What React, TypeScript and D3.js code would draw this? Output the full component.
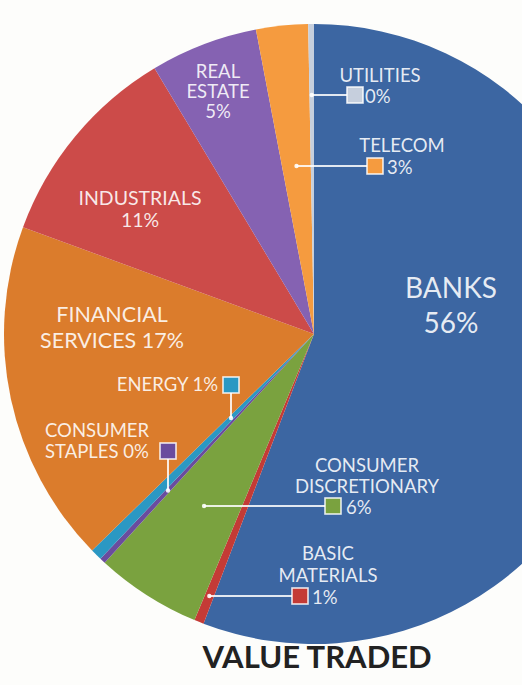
import React from "react";
import * as d3 from "d3";

// sector shares of value traded (clockwise from 12 o'clock)
const sectors = [
  "BANKS",
  "BASIC MATERIALS",
  "CONSUMER DISCRETIONARY",
  "CONSUMER STAPLES",
  "ENERGY",
  "FINANCIAL SERVICES",
  "INDUSTRIALS",
  "REAL ESTATE",
  "TELECOM",
  "UTILITIES",
];
const shares = [55.8, 0.5, 5.5, 0.3, 0.6, 17.9, 10.8, 5.6, 2.7, 0.3];
const shareLabels = ["56%", "1%", "6%", "0%", "1%", "17%", "11%", "5%", "3%", "0%"];
const sectorColors = [
  "#3c66a2",
  "#c43b36",
  "#7aa23f",
  "#6a4c9e",
  "#2b98c3",
  "#db7c2c",
  "#cc4b49",
  "#8562b2",
  "#f59b3f",
  "#c6cfdd",
];
const chartTitle = "VALUE TRADED";

const W = 522;
const H = 685;
const cx = 314;
const cy = 334;
const R = 310;
const FONT = "Lato, 'Open Sans', sans-serif";
const CALL_SIZE = 18.5;

// labels drawn inside their own slice
const inlineLabels: Record<string, { x: number; y: number[]; size: number; lines: (p: string) => string[] }> = {
  BANKS: { x: 451, y: [298, 333], size: 28, lines: (p) => ["BANKS", p] },
  "FINANCIAL SERVICES": { x: 112, y: [322, 348], size: 21.5, lines: (p) => ["FINANCIAL", "SERVICES " + p] },
  INDUSTRIALS: { x: 140, y: [205, 227], size: 19.5, lines: (p) => ["INDUSTRIALS", p] },
  "REAL ESTATE": { x: 218, y: [78, 98, 118], size: 18.5, lines: (p) => ["REAL", "ESTATE", p] },
};

// call-out labels: square key + leader into the thin slice
type Callout = {
  sq: [number, number];
  leader: "h" | "v";
  text: { x: number; y: number[]; anchor: string; lines: (p: string) => string[] };
  pct?: [number, number];
};
const callouts: Record<string, Callout> = {
  UTILITIES: { sq: [347, 87], leader: "h", text: { x: 380, y: [82], anchor: "middle", lines: () => ["UTILITIES"] }, pct: [365, 103] },
  TELECOM: { sq: [367, 158], leader: "h", text: { x: 402, y: [152], anchor: "middle", lines: () => ["TELECOM"] }, pct: [387, 174] },
  "CONSUMER DISCRETIONARY": {
    sq: [325, 498],
    leader: "h",
    text: { x: 367, y: [472, 493], anchor: "middle", lines: () => ["CONSUMER", "DISCRETIONARY"] },
    pct: [346, 514],
  },
  "BASIC MATERIALS": {
    sq: [292, 588],
    leader: "h",
    text: { x: 328, y: [560, 582], anchor: "middle", lines: () => ["BASIC", "MATERIALS"] },
    pct: [312, 604],
  },
  ENERGY: { sq: [223, 377], leader: "v", text: { x: 218, y: [391], anchor: "end", lines: (p) => ["ENERGY " + p] } },
  "CONSUMER STAPLES": {
    sq: [160, 443],
    leader: "v",
    text: { x: 45, y: [437, 458], anchor: "start", lines: (p) => ["CONSUMER", "STAPLES " + p] },
  },
};
const SQ = 16;

export default function App() {
  const pie = d3
    .pie<number>()
    .sort(null)
    .value((d) => d);
  const arcs = pie(shares);
  const arc = d3.arc<d3.PieArcDatum<number>>().innerRadius(0).outerRadius(R);

  return (
    <>
      <style>{"body{margin:0;background:#fdfdfb}"}</style>
      <svg width={W} height={H} viewBox={`0 0 ${W} ${H}`} style={{ display: "block", background: "#fdfdfb" }}>
        <g transform={`translate(${cx},${cy})`}>
          {arcs.map((a, i) => (
            <path key={sectors[i]} d={arc(a) || ""} fill={sectorColors[i]} />
          ))}
        </g>

        {arcs.map((a, i) => {
          const name = sectors[i];
          const lab = inlineLabels[name];
          if (!lab) return null;
          return (
            <text
              key={"in-" + name}
              textAnchor="middle"
              fontFamily={FONT}
              fontSize={lab.size}
              fill="#fff"
              fillOpacity={0.88}
            >
              {lab.lines(shareLabels[i]).map((t, k) => (
                <tspan key={k} x={lab.x} y={lab.y[k]}>
                  {t}
                </tspan>
              ))}
            </text>
          );
        })}

        {arcs.map((a, i) => {
          const name = sectors[i];
          const c = callouts[name];
          if (!c) return null;
          const mid = (a.startAngle + a.endAngle) / 2;
          const dx = Math.sin(mid);
          const dy = -Math.cos(mid);
          let p1: [number, number];
          let p2: [number, number];
          if (c.leader === "h") {
            const yy = c.sq[1] + SQ / 2;
            const t = (yy - cy) / dy;
            p1 = [cx + dx * t, yy];
            p2 = [c.sq[0], yy];
          } else {
            const xx = c.sq[0] + SQ / 2;
            const t = (xx - cx) / dx;
            p1 = [xx, cy + dy * t];
            p2 = [xx, c.sq[1] + SQ];
          }
          return (
            <g key={"co-" + name}>
              <line x1={p1[0]} y1={p1[1]} x2={p2[0]} y2={p2[1]} stroke="#fff" strokeOpacity={0.85} strokeWidth={2} />
              <circle cx={p1[0]} cy={p1[1]} r={2.2} fill="#fff" fillOpacity={0.9} />
              <rect
                x={c.sq[0]}
                y={c.sq[1]}
                width={SQ}
                height={SQ}
                fill={sectorColors[i]}
                stroke="#fff"
                strokeOpacity={0.85}
                strokeWidth={1.6}
              />
              <text textAnchor={c.text.anchor} fontFamily={FONT} fontSize={CALL_SIZE} fill="#fff" fillOpacity={0.88}>
                {c.text.lines(shareLabels[i]).map((t, k) => (
                  <tspan key={k} x={c.text.x} y={c.text.y[k]}>
                    {t}
                  </tspan>
                ))}
              </text>
              {c.pct && (
                <text x={c.pct[0]} y={c.pct[1]} fontFamily={FONT} fontSize={CALL_SIZE} fill="#fff" fillOpacity={0.88}>
                  {shareLabels[i]}
                </text>
              )}
            </g>
          );
        })}

        <text x={317} y={668} textAnchor="middle" fontFamily={FONT} fontWeight="bold" fontSize={31} fill="#222">
          {chartTitle}
        </text>
      </svg>
    </>
  );
}
